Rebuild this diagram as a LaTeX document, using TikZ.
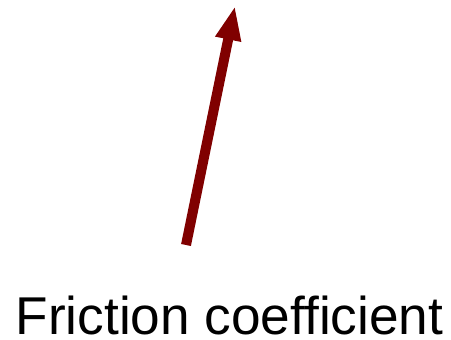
\documentclass[tikz,border=0pt]{standalone}
\usepackage{fontspec}
\setmainfont{Liberation Sans}
\usetikzlibrary{arrows.meta}
\definecolor{arrowred}{HTML}{800000}
\begin{document}
\begin{tikzpicture}[x=1pt,y=1pt,
  vec/.style={draw=arrowred,line width=10pt,-{Triangle[length=34pt,width=24pt]}},
  lbl/.style={inner sep=0pt,anchor=base,font=\fontsize{53.2}{58}\selectfont}]
\useasboundingbox (0,0) rectangle (451,340);
\coordinate (s) at (186,95);
\coordinate (e) at (235,334);
\draw[vec] (s) -- (e);
\node[lbl] (t) at (229.5,5.5) {Friction coefficient};
\end{tikzpicture}
\end{document}
